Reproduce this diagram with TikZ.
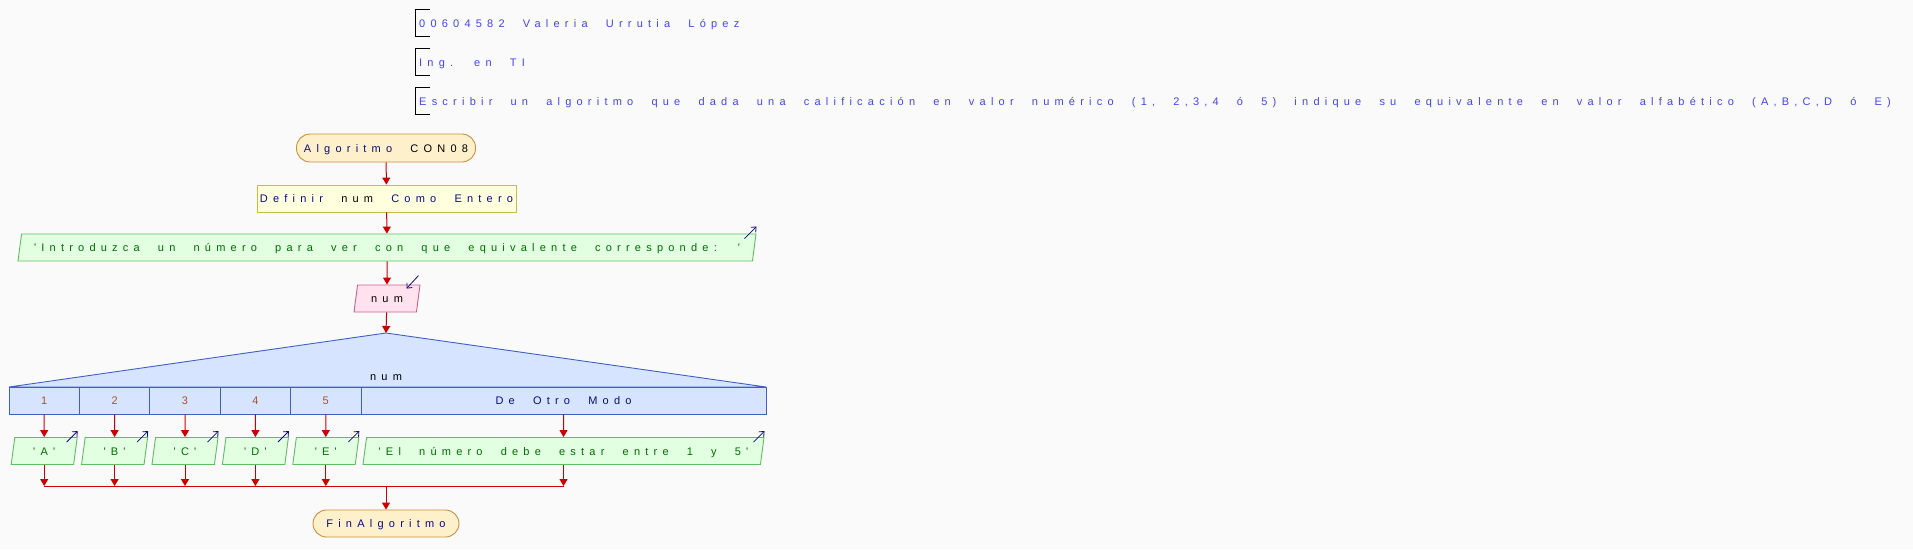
\documentclass[tikz,border=0pt]{standalone}
\usepackage{fontspec}
\setmainfont{Liberation Sans}[Ligatures=TeXOff,LetterSpace=47.5]
\usetikzlibrary{shapes.geometric,arrows.meta}

\newcommand{\pseifont}{\fontsize{11}{13}\selectfont\spaceskip=18.2pt\relax}

\definecolor{bgcol}{RGB}{250,250,250}
\definecolor{flowred}{RGB}{204,0,0}
\definecolor{headblue}{RGB}{68,68,250}
\definecolor{kwcol}{RGB}{10,10,130}
\definecolor{strcol}{RGB}{0,110,0}
\definecolor{numcol}{RGB}{170,80,40}
\definecolor{termfill}{RGB}{255,240,204}
\definecolor{termline}{RGB}{200,146,60}
\definecolor{deffill}{RGB}{255,255,221}
\definecolor{defline}{RGB}{200,192,60}
\definecolor{outfill}{RGB}{226,255,226}
\definecolor{outline}{RGB}{96,190,96}
\definecolor{inpfill}{RGB}{255,226,238}
\definecolor{inpline}{RGB}{206,96,144}
\definecolor{segfill}{RGB}{214,228,255}
\definecolor{segline}{RGB}{64,96,200}

\tikzset{
  every node/.style={text height=8pt,text depth=0pt},
  headtext/.style={anchor=west,inner xsep=4pt,inner ysep=0pt,minimum height=27pt,text=headblue},
  bracket/.style={draw=black,line width=0.9pt},
  termbox/.style={draw=termline,fill=termfill,line width=0.9pt,rounded corners=13.5pt,
    minimum height=28pt,inner sep=0pt,text=kwcol},
  defbox/.style={draw=defline,fill=deffill,line width=0.9pt,minimum height=27pt,inner sep=0pt,text=kwcol},
  iobox/.style={trapezium,trapezium left angle=66,trapezium right angle=114,
    trapezium stretches body,minimum height=27pt,inner sep=0pt,line width=0.9pt},
  outbox/.style={iobox,draw=outline,fill=outfill,text=strcol},
  inbox/.style={iobox,draw=inpline,fill=inpfill,text=black},
  casecell/.style={draw=segline,fill=segfill,line width=0.9pt,minimum height=27pt,inner sep=0pt,text=numcol},
  flow/.style={draw=flowred,line width=1pt,-{Triangle[length=7pt,width=8pt]}},
  joinline/.style={draw=flowred,line width=1pt},
  outicon/.style={draw=kwcol,line width=0.8pt,-{Straight Barb[length=4pt,width=7pt]}},
}

\begin{document}
\begin{tikzpicture}[x=1pt,y=-1pt,font=\pseifont]
  \fill[bgcol] (0,0) rectangle (1913,549);

  % header
  \node[headtext] (h1) at (415,23) {00604582 Valeria Urrutia López};
  \node[headtext] (h2) at (415,62) {Ing. en TI};
  \node[headtext] (h3) at (415,101) {Escribir un algoritmo que dada una calificación en valor numérico (1, 2,3,4 ó 5) indique su equivalente en valor alfabético (A,B,C,D ó E)};
  \draw[bracket] ([xshift=15pt]h1.north west) -- (h1.north west) -- (h1.south west) -- ++(15,0);
  \draw[bracket] ([xshift=15pt]h2.north west) -- (h2.north west) -- (h2.south west) -- ++(15,0);
  \draw[bracket] ([xshift=15pt]h3.north west) -- (h3.north west) -- (h3.south west) -- ++(15,0);

  % main flow
  \node[termbox,minimum width=179pt] (start) at (386,148) {Algoritmo \textcolor{black}{CON08}};
  \node[defbox,minimum width=259pt] (def) at (386.5,198.5) {Definir \textcolor{black}{num} Como Entero};
  \node[outbox,minimum width=738pt] (msg) at (387,247.5) {'Introduzca un número para ver con que equivalente corresponde: '};
  \node[inbox,minimum width=66pt] (inp) at (387,298.5) {num};

  % segun
  \coordinate (apex) at (386,333);
  \coordinate (segL) at (9,387);
  \coordinate (segR) at (766,387);
  \draw[draw=segline,fill=segfill,line width=0.9pt] (segL) -- (apex) -- (segR) -- cycle;
  \node[text=black] (segvar) at (386,376) {num};
  \node[casecell,minimum width=70.4pt] (c1) at (44.2,400.5) {1};
  \node[casecell,minimum width=70.4pt] (c2) at (114.6,400.5) {2};
  \node[casecell,minimum width=70.4pt] (c3) at (185,400.5) {3};
  \node[casecell,minimum width=70.4pt] (c4) at (255.4,400.5) {4};
  \node[casecell,minimum width=70.4pt] (c5) at (325.8,400.5) {5};
  \node[casecell,minimum width=405pt,text=kwcol] (c6) at (563.5,400.5) {De Otro Modo};

  \node[outbox,minimum width=66pt] (oA) at (44.2,451) {'A'};
  \node[outbox,minimum width=66pt] (oB) at (114.6,451) {'B'};
  \node[outbox,minimum width=66pt] (oC) at (185,451) {'C'};
  \node[outbox,minimum width=66pt] (oD) at (255.4,451) {'D'};
  \node[outbox,minimum width=66pt] (oE) at (325.8,451) {'E'};
  \node[outbox,minimum width=401pt] (oX) at (563.5,451) {'El número debe estar entre 1 y 5'};

  \coordinate (jn) at (386,486);
  \node[termbox,minimum width=146pt,minimum height=27pt] (fin) at (386,523.5) {FinAlgoritmo};

  % connectors
  \draw[flow] (start) -- (def);
  \draw[flow] (def) -- (msg);
  \draw[flow] (msg) -- (inp);
  \draw[flow] (inp) -- (apex);
  \draw[flow] (c1) -- (oA);
  \draw[flow] (c2) -- (oB);
  \draw[flow] (c3) -- (oC);
  \draw[flow] (c4) -- (oD);
  \draw[flow] (c5) -- (oE);
  \draw[flow] (c6) -- (oX);
  \draw[flow] (oA.south) -- (oA.south |- jn);
  \draw[flow] (oB.south) -- (oB.south |- jn);
  \draw[flow] (oC.south) -- (oC.south |- jn);
  \draw[flow] (oD.south) -- (oD.south |- jn);
  \draw[flow] (oE.south) -- (oE.south |- jn);
  \draw[flow] (oX.south) -- (oX.south |- jn);
  \draw[joinline] (oA.south |- jn) -- (oX.south |- jn);
  \draw[flow] (jn) -- (fin);

  % io marks
  \draw[outicon] ([shift={(-12,5)}]msg.top right corner) -- ([shift={(0,-7)}]msg.top right corner);
  \draw[outicon] ([shift={(-11,5)}]oA.top right corner) -- ([shift={(0,-6)}]oA.top right corner);
  \draw[outicon] ([shift={(-11,5)}]oB.top right corner) -- ([shift={(0,-6)}]oB.top right corner);
  \draw[outicon] ([shift={(-11,5)}]oC.top right corner) -- ([shift={(0,-6)}]oC.top right corner);
  \draw[outicon] ([shift={(-11,5)}]oD.top right corner) -- ([shift={(0,-6)}]oD.top right corner);
  \draw[outicon] ([shift={(-11,5)}]oE.top right corner) -- ([shift={(0,-6)}]oE.top right corner);
  \draw[outicon] ([shift={(-11,5)}]oX.top right corner) -- ([shift={(0,-6)}]oX.top right corner);
  \draw[outicon] ([shift={(-2,-9)}]inp.top right corner) -- ([shift={(-14,4)}]inp.top right corner);
\end{tikzpicture}
\end{document}
